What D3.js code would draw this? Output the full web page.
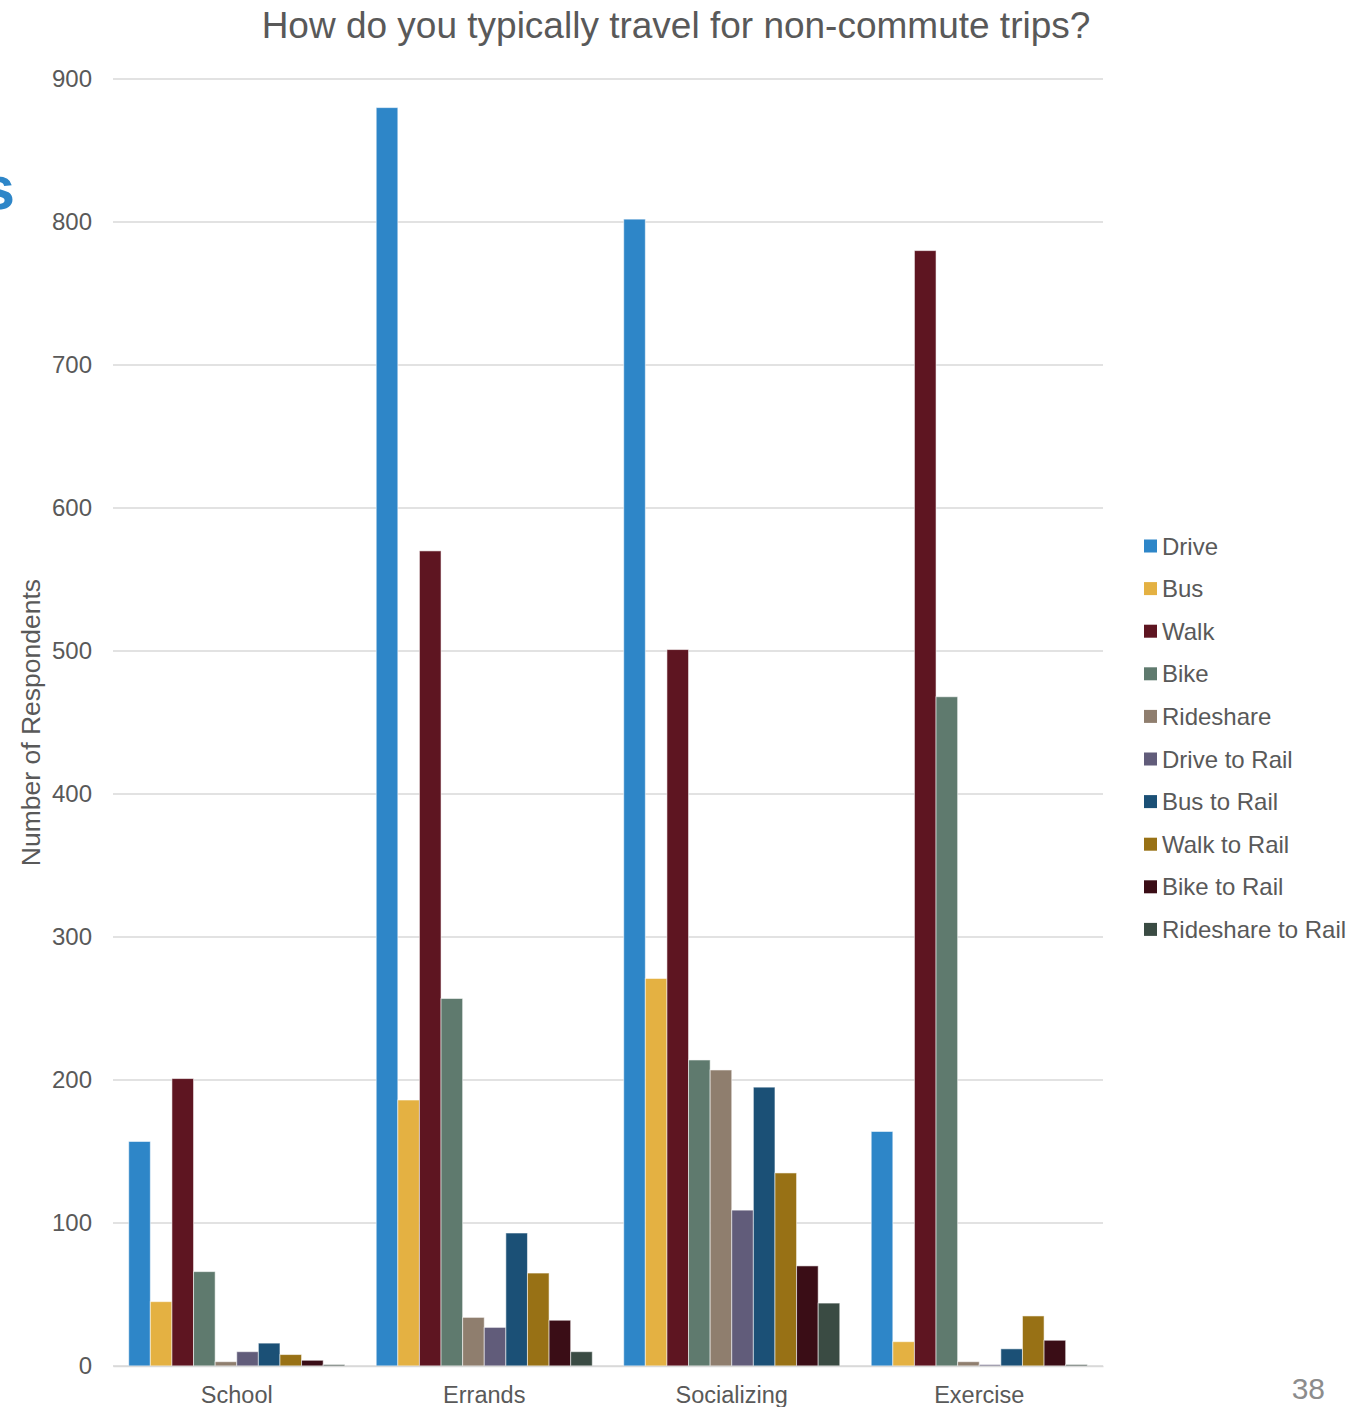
<!DOCTYPE html>
<html>
<head>
<meta charset="utf-8">
<script src="https://cdn.jsdelivr.net/npm/d3@7"></script>
<style>
  body { margin: 0; background: #fff; }
  svg { display: block; font-family: "Liberation Sans", Arial, sans-serif; }
</style>
</head>
<body>
<script>
// data
const categories = ['School', 'Errands', 'Socializing', 'Exercise']
const modes = ['Drive', 'Bus', 'Walk', 'Bike', 'Rideshare', 'Drive to Rail',
               'Bus to Rail', 'Walk to Rail', 'Bike to Rail', 'Rideshare to Rail']
const school = [157, 45, 201, 66, 3, 10, 16, 8, 4, 1]
const errands = [880, 186, 570, 257, 34, 27, 93, 65, 32, 10]
const socializing = [802, 271, 501, 214, 207, 109, 195, 135, 70, 44]
const exercise = [164, 17, 780, 468, 3, 1, 12, 35, 18, 1]
const y_ticks = [0, 100, 200, 300, 400, 500, 600, 700, 800, 900]
const mode_colors = ['#2E86C8', '#E4B142', '#5E1521', '#5F7A6E', '#8F7E6E',
                     '#615C7A', '#1B5076', '#987115', '#3A0D16', '#3A4B43']

const values = [school, errands, socializing, exercise]

// dimensions
const W = 1352, H = 1407
const plot = {left: 113, right: 1103, top: 79, bottom: 1366}

const svg = d3.select('body').append('svg')
    .attr('width', W)
    .attr('height', H)

const x0 = d3.scaleBand()
    .domain(categories)
    .range([plot.left, plot.right])
    .paddingInner(0.127)
    .paddingOuter(0.0635)

const x1 = d3.scaleBand()
    .domain(modes)
    .range([0, x0.bandwidth()])

const y = d3.scaleLinear()
    .domain([0, 900])
    .range([plot.bottom, plot.top])

const color = d3.scaleOrdinal().domain(modes).range(mode_colors)

// gridlines
svg.append('g')
    .selectAll('line')
    .data(y_ticks)
    .enter()
    .append('line')
    .attr('x1', plot.left)
    .attr('x2', plot.right)
    .attr('y1', d => y(d))
    .attr('y2', d => y(d))
    .style('stroke', '#d9d9d9')
    .style('stroke-width', 1.5)

// y axis labels
const y_axis = svg.append('g')
    .attr('transform', `translate(${plot.left}, 0)`)
    .call(d3.axisLeft(y).tickValues(y_ticks).tickSize(0).tickPadding(21))
y_axis.select('.domain').remove()
y_axis.selectAll('text')
    .style('font-size', '24px')
    .style('fill', '#595959')
    .style('font-family', '"Liberation Sans", Arial, sans-serif')

// bars
const groups = svg.append('g')
    .selectAll('g')
    .data(categories)
    .enter()
    .append('g')
    .attr('transform', d => `translate(${x0(d)}, 0)`)

groups.selectAll('rect')
    .data((d, i) => modes.map((m, j) => ({mode: m, value: values[i][j]})))
    .enter()
    .append('rect')
    .attr('x', d => x1(d.mode))
    .attr('width', x1.bandwidth())
    .attr('y', d => y(d.value))
    .attr('height', d => y(0) - y(d.value))
    .style('fill', d => color(d.mode))
    .style('stroke', 'rgba(255,255,255,0.55)')
    .style('stroke-width', 1)

// x axis
const x_axis = svg.append('g')
    .attr('transform', `translate(0, ${plot.bottom})`)
    .call(d3.axisBottom(x0).tickSize(0).tickPadding(20))
x_axis.select('.domain')
    .style('stroke', '#d9d9d9')
    .style('stroke-width', 1.5)
x_axis.selectAll('text')
    .style('font-size', '23.5px')
    .style('fill', '#595959')
    .style('font-family', '"Liberation Sans", Arial, sans-serif')

// titles
svg.append('text')
    .text('How do you typically travel for non-commute trips?')
    .attr('x', 676)
    .attr('y', 38)
    .attr('text-anchor', 'middle')
    .style('font-size', '37px')
    .style('fill', '#595959')

svg.append('text')
    .text('Number of Respondents')
    .attr('transform', `translate(40, ${(plot.top + plot.bottom) / 2}) rotate(-90)`)
    .attr('text-anchor', 'middle')
    .style('font-size', '26.5px')
    .style('fill', '#595959')

// legend
const legend = svg.append('g')
    .selectAll('g')
    .data(modes)
    .enter()
    .append('g')
    .attr('transform', (d, i) => `translate(1144, ${546 + i * 42.6})`)
legend.append('rect')
    .attr('x', 0)
    .attr('y', -6.5)
    .attr('width', 13)
    .attr('height', 13)
    .style('fill', d => color(d))
legend.append('text')
    .text(d => d)
    .attr('x', 18)
    .attr('y', 8.5)
    .style('font-size', '24px')
    .style('fill', '#595959')

// slide leftovers (partly off-page, as in the reference)
svg.append('text')
    .text('s')
    .attr('x', 15)
    .attr('y', 209)
    .attr('text-anchor', 'end')
    .style('font-size', '62px')
    .style('font-weight', 'bold')
    .style('fill', '#2E86C8')

svg.append('text')
    .text('38')
    .attr('x', 1325)
    .attr('y', 1399)
    .attr('text-anchor', 'end')
    .style('font-size', '30px')
    .style('fill', '#8c8c8c')
</script>
</body>
</html>
